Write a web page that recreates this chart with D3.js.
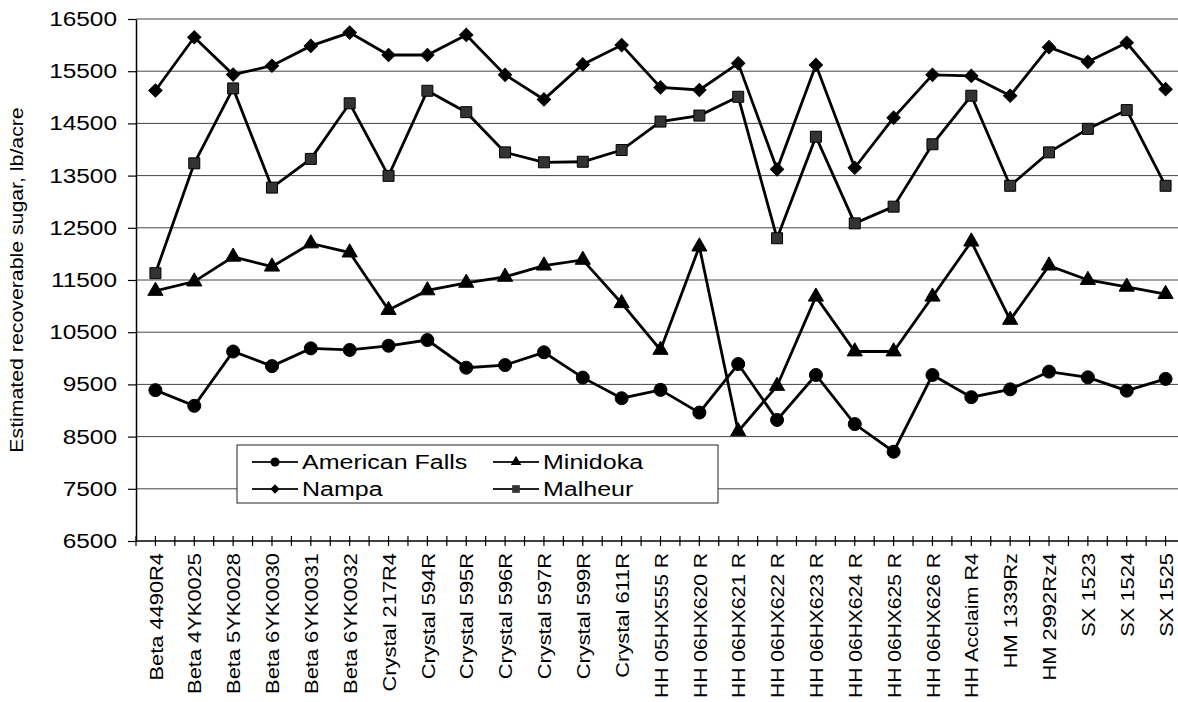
<!DOCTYPE html>
<html lang="en">
<head>
  <meta charset="UTF-8">
  <title>Estimated recoverable sugar</title>
  <style>
    body { margin: 0; background: #fff; }
    text { font-family: 'Liberation Sans', Arial, sans-serif; fill: #000; }
  </style>
</head>
<body>
  <svg id="svg" width="1178" height="702"></svg>

  <script src="https://d3js.org/d3.v7.min.js"></script>
  <script>
    // ------ DATA ------------------------
    const categories = [
      'Beta 4490R4', 'Beta 4YK0025', 'Beta 5YK0028', 'Beta 6YK0030', 'Beta 6YK0031',
      'Beta 6YK0032', 'Crystal 217R4', 'Crystal 594R', 'Crystal 595R', 'Crystal 596R',
      'Crystal 597R', 'Crystal 599R', 'Crystal 611R', 'HH 05HX555 R', 'HH 06HX620 R',
      'HH 06HX621 R', 'HH 06HX622 R', 'HH 06HX623 R', 'HH 06HX624 R', 'HH 06HX625 R',
      'HH 06HX626 R', 'HH Acclaim R4', 'HM 1339Rz', 'HM 2992Rz4', 'SX 1523', 'SX 1524', 'SX 1525'
    ]

    const americanFalls = [9390, 9090, 10130, 9850, 10190, 10160, 10240, 10350, 9820, 9870,
      10115, 9630, 9235, 9395, 8960, 9890, 8820, 9680, 8740, 8210, 9680, 9255, 9405, 9745, 9635, 9380, 9605]
    const minidoka = [11290, 11470, 11945, 11755, 12200, 12025, 10925, 11300, 11445, 11560,
      11775, 11885, 11055, 10160, 12140, 8600, 9470, 11180, 10130, 10130, 11180, 12235, 10735, 11775, 11500, 11370, 11230]
    const nampa = [15130, 16150, 15435, 15605, 15985, 16240, 15810, 15810, 16195, 15430,
      14960, 15630, 16000, 15190, 15140, 15650, 13620, 15620, 13650, 14610, 15430, 15410, 15030, 15960, 15680, 16045, 15155]
    const malheur = [11630, 13735, 15170, 13270, 13820, 14885, 13495, 15125, 14715, 13945,
      13755, 13765, 13990, 14535, 14650, 15010, 12300, 14245, 12585, 12905, 14100, 15030, 13305, 13945, 14395, 14755, 13305]

    const yTicks = [6500, 7500, 8500, 9500, 10500, 11500, 12500, 13500, 14500, 15500, 16500]
    const yLabel = 'Estimated recoverable sugar, lb/acre'

    const series = [
      { name: 'American Falls', values: americanFalls, symbol: 'circle' },
      { name: 'Minidoka', values: minidoka, symbol: 'triangle' },
      { name: 'Nampa', values: nampa, symbol: 'diamond' },
      { name: 'Malheur', values: malheur, symbol: 'square' }
    ]

    // ------ CONSTANTS ------------------------
    const margin = { top: 19, left: 136 }
    const plotBottom = 541
    const plotRight = 1185   // plot runs a bit past the picture edge
    const svgWidth = 1178

    // stretch text a bit, the original font is wider than Arial
    const stretch = (sel, k, maxLen) => {
      sel.each(function () {
        const w = this.getComputedTextLength()
        const len = maxLen ? Math.min(w * k, maxLen) : w * k
        d3.select(this).attr('textLength', len).attr('lengthAdjust', 'spacingAndGlyphs')
      })
    }

    // marker generator
    const marker = (type, big) => {
      const s = big ? 1 : 0.7
      if (type === 'circle') return d3.symbol(d3.symbolCircle, 133 * s * s)()
      if (type === 'triangle') return d3.symbol(d3.symbolTriangle, 100 * s * s)()
      if (type === 'square') return d3.symbol(d3.symbolSquare, 121 * s * s)()
      return d3.symbol(d3.symbolSquare, 88 * s * s)()
    }

    // ------ SCALES ------------------------
    const xscale = d3.scalePoint()
      .domain(categories)
      .range([margin.left, plotRight])
      .padding(0.5)

    const yscale = d3.scaleLinear()
      .domain([6500, 16500])
      .range([plotBottom, margin.top])

    const svg = d3.select('#svg')

    // ------ GRIDLINES ------------------------
    svg.append('g')
      .selectAll('line')
      .data(yTicks.slice(1))
      .enter()
      .append('line')
      .attr('x1', margin.left)
      .attr('x2', svgWidth)
      .attr('y1', d => yscale(d))
      .attr('y2', d => yscale(d))
      .attr('stroke', '#444')
      .attr('stroke-width', 1)

    // ------ AXES ------------------------
    const leftAxis = d3.axisLeft(yscale)
      .tickValues(yTicks)
      .tickSize(8)
      .tickSizeOuter(0)
      .tickPadding(11)
      .tickFormat(d3.format('d'))

    const yAxisG = svg.append('g')
      .attr('transform', `translate(${margin.left}, 0)`)
      .call(leftAxis)
    yAxisG.select('.domain').attr('stroke', '#000').attr('stroke-width', 1.5)
    yAxisG.selectAll('.tick line').attr('stroke', '#000').attr('stroke-width', 1.2)
    yAxisG.selectAll('text')
      .style('font-family', "'Liberation Sans', Arial, sans-serif")
      .style('font-size', '20px')
      .attr('fill', '#000')
      .call(stretch, 1.22)

    const bottomAxis = d3.axisBottom(xscale).tickSize(0).tickSizeOuter(0)
    const xAxisG = svg.append('g')
      .attr('transform', `translate(0, ${plotBottom})`)
      .call(bottomAxis)
    xAxisG.select('.domain').remove()
    xAxisG.append('line')
      .attr('x1', margin.left)
      .attr('x2', svgWidth)
      .attr('stroke', '#000')
      .attr('stroke-width', 1.5)

    // ticks at centres and between categories
    const step = xscale.step()
    const xTickPos = []
    categories.forEach(c => {
      xTickPos.push(xscale(c) - step / 2)
      xTickPos.push(xscale(c))
    })
    xAxisG.append('g')
      .selectAll('line')
      .data(xTickPos)
      .enter()
      .append('line')
      .attr('x1', d => d)
      .attr('x2', d => d)
      .attr('y1', -5)
      .attr('y2', 5)
      .attr('stroke', '#000')
      .attr('stroke-width', 1.2)

    xAxisG.selectAll('.tick text')
      .attr('transform', 'rotate(-90)')
      .attr('x', -12)
      .attr('y', 0)
      .attr('dy', '0.35em')
      .attr('text-anchor', 'end')
      .style('font-family', "'Liberation Sans', Arial, sans-serif")
      .style('font-size', '19px')
      .attr('fill', '#000')
      .call(stretch, 1.15, 145)

    // y label
    svg.append('text')
      .attr('transform', `translate(16, ${(margin.top + plotBottom) / 2}) rotate(-90)`)
      .attr('text-anchor', 'middle')
      .attr('dy', '0.35em')
      .style('font-size', '19px')
      .text(yLabel)
      .call(stretch, 1.12)

    // ------ LINES + MARKERS ------------------------
    const line = d3.line()
      .x((d, i) => xscale(categories[i]))
      .y(d => yscale(d))

    series.forEach(s => {
      const g = svg.append('g')
      g.append('path')
        .datum(s.values)
        .attr('d', line)
        .attr('fill', 'none')
        .attr('stroke', '#000')
        .attr('stroke-width', 2.8)
        .attr('stroke-linejoin', 'miter')

      g.selectAll('path.pt')
        .data(s.values)
        .enter()
        .append('path')
        .attr('class', 'pt')
        .attr('d', marker(s.symbol, true))
        .attr('transform', (d, i) => `translate(${xscale(categories[i])}, ${yscale(d)})` + (s.symbol === 'diamond' ? ' rotate(45)' : ''))
        .attr('fill', s.symbol === 'square' ? '#333' : '#000')
        .attr('stroke', '#000')
        .attr('stroke-width', 1)
    })

    // ------ LEGEND ------------------------
    const legend = svg.append('g').attr('transform', 'translate(237, 445)')
    legend.append('rect')
      .attr('width', 481)
      .attr('height', 58)
      .attr('fill', '#fff')
      .attr('stroke', '#222')
      .attr('stroke-width', 1)

    const cols = [15, 256]
    const rows = [17, 44]
    series.forEach((s, i) => {
      const gx = cols[i % 2]
      const gy = rows[Math.floor(i / 2)]
      const item = legend.append('g').attr('transform', `translate(${gx}, ${gy})`)
      item.append('line')
        .attr('x1', 0)
        .attr('x2', 46)
        .attr('stroke', '#222')
        .attr('stroke-width', 1.8)
      item.append('path')
        .attr('d', marker(s.symbol, false))
        .attr('transform', 'translate(23, 0)' + (s.symbol === 'diamond' ? ' rotate(45)' : ''))
        .attr('fill', s.symbol === 'square' ? '#333' : '#000')
      item.append('text')
        .attr('x', 50)
        .attr('dy', '0.35em')
        .style('font-size', '20px')
        .text(s.name)
        .call(stretch, 1.25)
    })
  </script>
</body>
</html>
